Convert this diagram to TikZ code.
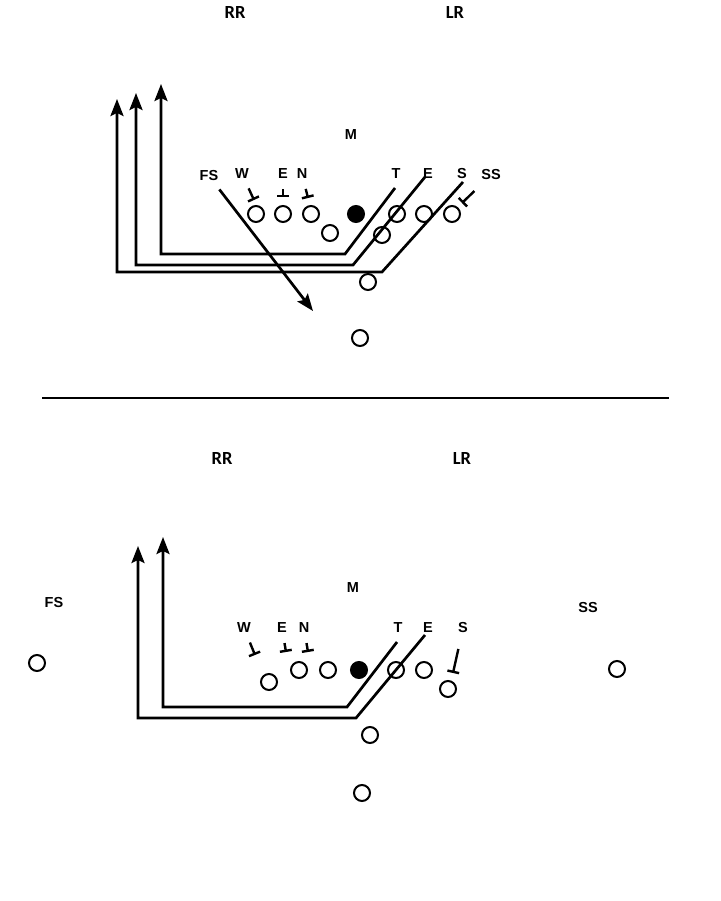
\documentclass[tikz,border=0pt]{standalone}
\usepackage{fontspec}
\setsansfont{Liberation Sans}
\newfontfamily\rrfont{Carlito}
\usetikzlibrary{arrows.meta}

\tikzset{
  lbl/.style={font=\sffamily\bfseries\fontsize{14.5}{14.5}\selectfont, inner sep=1pt},
  rlbl/.style={font=\rrfont\bfseries\fontsize{18.5}{18.5}\selectfont},
  man/.style={draw, circle, line width=2pt, minimum size=16pt, inner sep=0pt},
  snap/.style={man, fill=black},
  route/.style={line width=2.7pt, -{Stealth[length=17pt,width=13pt,inset=3pt]}},
  block/.style={line width=2.4pt, shorten <=9pt, -{Bar[width=12pt,line width=2.4pt]}},
}

\begin{document}
\begin{tikzpicture}[x=1pt,y=-1pt]
\useasboundingbox (0,0) rectangle (720,901);
%\draw [help lines, step=50] (0,0) grid (720,901);

% top play
\node [rlbl] (rrA) at (235,13) {RR};
\node [rlbl] (lrA) at (455,13) {LR};
\node [lbl] (mA) at (351,135) {M};

\node [lbl] (fsA) at (209,176) {FS};
\node [lbl] (wA) at (242,174) {W};
\node [lbl] (eA) at (283,174) {E};
\node [lbl] (nA) at (302,174) {N};
\node [lbl] (tA) at (396,174) {T};
\node [lbl] (e2A) at (428,174) {E};
\node [lbl] (sA) at (462,174) {S};
\node [lbl] (ssA) at (491,175) {SS};

\node [man] (p1A) at (256,214) {};
\node [man] (p2A) at (283,214) {};
\node [man] (p3A) at (311,214) {};
\node [man] (p4A) at (330,233) {};
\node [snap] (cA) at (356,214) {};
\node [man] (p5A) at (397,214) {};
\node [man] (p6A) at (424,214) {};
\node [man] (p7A) at (452,214) {};
\node [man] (p8A) at (382,235) {};
\node [man] (p9A) at (368,282) {};
\node [man] (p10A) at (360,338) {};

\coordinate (r1a) at (463,182);
\coordinate (r1b) at (382,272);
\coordinate (r1c) at (117,272);
\coordinate (r1d) at (117,99);
\draw [route] (r1a) -- (r1b) -- (r1c) -- (r1d);

\coordinate (r2a) at (425,177);
\coordinate (r2b) at (353,265);
\coordinate (r2c) at (136,265);
\coordinate (r2d) at (136,93);
\draw [route] (r2a) -- (r2b) -- (r2c) -- (r2d);

\coordinate (r3a) at (395,188);
\coordinate (r3b) at (345,254);
\coordinate (r3c) at (161,254);
\coordinate (r3d) at (161,84);
\draw [route] (r3a) -- (r3b) -- (r3c) -- (r3d);

\coordinate (fsendA) at (313,311);
\draw [route, shorten <=9pt] (fsA) -- (fsendA);

\coordinate (bwA) at (254,200);
\coordinate (beA) at (283,197);
\coordinate (bnA) at (308,198);
\coordinate (bssA) at (462,203);
\draw [block] (wA) -- (bwA);
\draw [block] (eA) -- (beA);
\draw [block] (nA) -- (bnA);
\draw [block, shorten <=14pt] (ssA) -- (bssA);

% divider
\draw [line width=2.8pt] (42,398) -- (669,398);

% bottom play
\node [rlbl] (rrB) at (222,458) {RR};
\node [rlbl] (lrB) at (462,458) {LR};
\node [lbl] (mB) at (353,588) {M};
\node [lbl] (fsB) at (54,603) {FS};
\node [lbl] (ssB) at (588,608) {SS};

\node [lbl] (wB) at (244,628) {W};
\node [lbl] (eB) at (282,628) {E};
\node [lbl] (nB) at (304,628) {N};
\node [lbl] (tB) at (398,628) {T};
\node [lbl] (e2B) at (428,628) {E};
\node [lbl] (sB) at (463,628) {S};

\node [man] (fspB) at (37,663) {};
\node [man] (sspB) at (617,669) {};
\node [man] (p1B) at (269,682) {};
\node [man] (p2B) at (299,670) {};
\node [man] (p3B) at (328,670) {};
\node [snap] (cB) at (359,670) {};
\node [man] (p5B) at (396,670) {};
\node [man] (p6B) at (424,670) {};
\node [man] (p7B) at (448,689) {};
\node [man] (p9B) at (370,735) {};
\node [man] (p10B) at (362,793) {};

\coordinate (q1a) at (425,635);
\coordinate (q1b) at (356,718);
\coordinate (q1c) at (138,718);
\coordinate (q1d) at (138,546);
\draw [route] (q1a) -- (q1b) -- (q1c) -- (q1d);

\coordinate (q2a) at (397,642);
\coordinate (q2b) at (347,707);
\coordinate (q2c) at (163,707);
\coordinate (q2d) at (163,537);
\draw [route] (q2a) -- (q2b) -- (q2c) -- (q2d);

\coordinate (bwB) at (255,655);
\coordinate (beB) at (286,652);
\coordinate (bnB) at (308,652);
\coordinate (bsB) at (453,673);
\draw [block] (wB) -- (bwB);
\draw [block] (eB) -- (beB);
\draw [block] (nB) -- (bnB);
\draw [block, shorten <=15pt] (sB) -- (bsB);

\end{tikzpicture}
\end{document}
